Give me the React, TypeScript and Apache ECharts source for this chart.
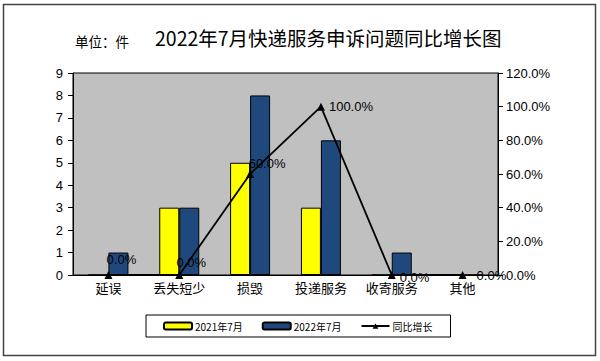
import React, { useEffect, useRef } from "react";
import * as echarts from "echarts";

const categories = ["延误", "丢失短少", "损毁", "投递服务", "收寄服务", "其他"];
const values2021 = [0, 3, 5, 3, 0, 0];
const values2022 = [1, 3, 8, 6, 1, 0];
const growth = [0, 0, 60, 100, 0, 0];
const leftTicks = { min: 0, max: 9, interval: 1 };
const rightTicks = { min: 0, max: 120, interval: 20 };

const labelOffsets: [number, number][] = [
  [13, -3],
  [12, 0],
  [17, 2],
  [2, 0],
  [2, 2],
  [8, 0],
];
const labelPositions = ["top", "top", "top", "right", "right", "right"];

export default function App() {
  const ref = useRef<HTMLDivElement>(null);
  useEffect(() => {
    if (!ref.current) return;
    const chart = echarts.init(ref.current, null, { renderer: "svg" });
    const font = "Liberation Sans, Arial, Noto Sans CJK SC, sans-serif";
    chart.setOption({
      animation: false,
      backgroundColor: "#ffffff",
      textStyle: { fontFamily: font, color: "#000" },
      graphic: [
        {
          type: "rect",
          shape: { x: 3.5, y: 4.5, width: 592, height: 351 },
          style: { fill: "none", stroke: "#444", lineWidth: 1.5 },
          z: 0,
        },
        {
          type: "text",
          left: 75,
          top: 34,
          style: { text: "单位：件", font: "13.5px Noto Sans CJK SC", fill: "#000" },
        },
        {
          type: "text",
          left: 155,
          top: 28,
          style: { text: "2022年7月快递服务申诉问题同比增长图", font: "19.5px Noto Sans CJK SC", fill: "#000" },
        },
      ],
      legend: {
        left: 146,
        top: 315,
        padding: [6, 18, 6, 17],
        itemGap: 19,
        itemWidth: 28,
        itemHeight: 7,
        borderColor: "#000",
        borderWidth: 1,
        textStyle: { fontSize: 10, fontFamily: "Noto Sans CJK SC", color: "#000", padding: [0, 0, 0, -2] },
        data: ["2021年7月", "2022年7月", "同比增长"],
      },
      grid: { left: 73, top: 73, right: 102, bottom: 86, show: true, backgroundColor: "#c0c0c0", borderColor: "#000", borderWidth: 1 },
      xAxis: {
        type: "category",
        data: categories,
        boundaryGap: true,
        axisLine: { lineStyle: { color: "#000" } },
        axisTick: { inside: true, length: 5, lineStyle: { color: "#000" } },
        axisLabel: { color: "#000", fontSize: 13, fontFamily: "Noto Sans CJK SC", margin: 6 },
      },
      yAxis: [
        {
          type: "value",
          min: leftTicks.min,
          max: leftTicks.max,
          interval: leftTicks.interval,
          splitLine: { show: false },
          axisLine: { show: true, lineStyle: { color: "#000" } },
          axisTick: { show: true, length: 5, lineStyle: { color: "#000" } },
          axisLabel: { color: "#000", fontSize: 13, margin: 10 },
        },
        {
          type: "value",
          min: rightTicks.min,
          max: rightTicks.max,
          interval: rightTicks.interval,
          splitLine: { show: false },
          axisLine: { show: true, lineStyle: { color: "#000" } },
          axisTick: { show: true, length: 5, lineStyle: { color: "#000" } },
          axisLabel: { color: "#000", fontSize: 13, margin: 8, formatter: (v: number) => v.toFixed(1) + "%" },
        },
      ],
      series: [
        {
          name: "2021年7月",
          type: "bar",
          data: values2021,
          barWidth: 20,
          barGap: "0%",
          itemStyle: { color: "#ffff00", borderColor: "#000", borderWidth: 1 },
        },
        {
          name: "2022年7月",
          type: "bar",
          data: values2022,
          barWidth: 20,
          barGap: "0%",
          itemStyle: { color: "#1f497d", borderColor: "#000", borderWidth: 1 },
        },
        {
          name: "同比增长",
          type: "line",
          yAxisIndex: 1,
          symbol: "triangle",
          symbolSize: 8,
          lineStyle: { color: "#000", width: 1.8 },
          itemStyle: { color: "#000" },
          z: 5,
          data: growth.map((v, i) => ({
            value: v,
            label: {
              show: true,
              position: labelPositions[i],
              offset: labelOffsets[i],
              distance: 2,
              formatter: (p: any) => Number(p.value).toFixed(1) + "%",
              color: "#000",
              fontSize: 13,
              fontFamily: font,
            },
          })),
        },
      ],
    });
    return () => chart.dispose();
  }, []);
  return <div ref={ref} style={{ position: "fixed", left: 0, top: 0, width: 600, height: 361 }} />;
}
